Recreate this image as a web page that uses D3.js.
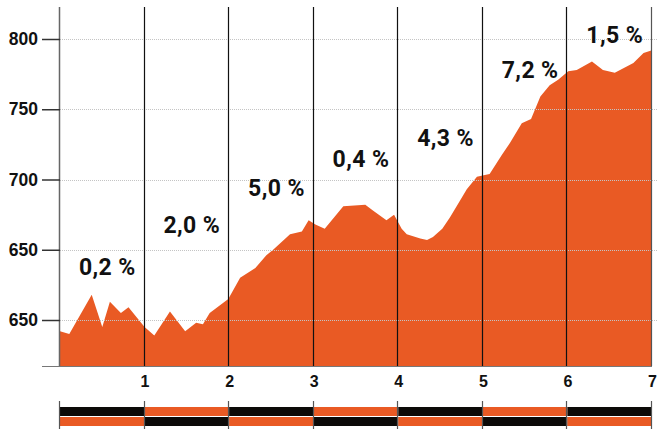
<!DOCTYPE html>
<html>
<head>
<meta charset="utf-8">
<script src="https://cdn.jsdelivr.net/npm/d3@7"></script>
<style>
  body { margin: 0; background: #fff; }
  svg { display: block; font-family: Roboto, "Noto Sans", sans-serif; }
</style>
</head>
<body>
<div id="profile"></div>
<script>
// distance in km, elevation in m
const distKm = [0, 0.11, 0.375, 0.50, 0.59, 0.72, 0.81, 1.00, 1.115, 1.30, 1.48, 1.61, 1.69, 1.77, 1.99,
  2.13, 2.31, 2.44, 2.52, 2.72, 2.86, 2.94, 3.02, 3.13, 3.35, 3.61, 3.70, 3.86, 3.95, 4.04, 4.10,
  4.26, 4.34, 4.41, 4.52, 4.61, 4.72, 4.81, 4.93, 5.01, 5.08, 5.22, 5.32, 5.46, 5.57, 5.68, 5.79, 5.89, 6.01,
  6.11, 6.29, 6.42, 6.56, 6.78, 6.90, 7.00];
const elevation = [592, 590, 618, 595, 613, 605, 609, 595, 589, 606, 592, 598, 597, 605, 615,
  630, 637, 646, 650, 661, 663, 671, 668, 665, 681, 682, 678, 671, 675, 665, 661,
  658, 657, 659, 665, 673, 684, 693, 702, 703, 704, 717, 726, 740, 743, 759, 767, 771, 777,
  778, 784, 778, 776, 783, 790, 792];

// gradient per km and where its label sits (elevation)
const gradients = ["0,2 %", "2,0 %", "5,0 %", "0,4 %", "4,3 %", "7,2 %", "1,5 %"];
const labelAlt = [632, 662, 688, 709, 724, 772, 797];

const yTicks = [600, 650, 700, 750, 800];
const yTickLabels = ["650", "650", "700", "750", "800"];
const kmTicks = [1, 2, 3, 4, 5, 6, 7];

const width = 657, height = 429;
const orange = "#e95a24";

const svg = d3.select("#profile").append("svg")
    .attr("width", width)
    .attr("height", height);

const x = d3.scaleLinear().domain([0, 7]).range([60, 652]);
const y = d3.scaleLinear().domain([600, 800]).range([320, 39]);
const plotTop = 7, plotBottom = 366;

// the profile
const area = d3.area()
    .x((d, i) => x(distKm[i]))
    .y0(plotBottom)
    .y1(d => y(d));

svg.append("path")
    .datum(elevation)
    .attr("d", area)
    .attr("fill", orange);

// dotted gridlines (on top of the area)
svg.selectAll(".grid")
    .data(yTicks)
    .enter().append("line")
    .attr("x1", 60).attr("x2", width)
    .attr("y1", d => Math.round(y(d)) + 0.5)
    .attr("y2", d => Math.round(y(d)) + 0.5)
    .attr("stroke", "#c4c4c4")
    .attr("stroke-dasharray", "1,1");

// km lines
svg.selectAll(".km")
    .data(kmTicks)
    .enter().append("line")
    .attr("x1", d => Math.round(x(d)) - 0.5)
    .attr("x2", d => Math.round(x(d)) - 0.5)
    .attr("y1", plotTop).attr("y2", plotBottom)
    .attr("stroke", d => d === 7 ? "#555" : "#111")
    .attr("stroke-width", 1.2);

// left axis line + baseline
svg.append("line")
    .attr("x1", 59.5).attr("x2", 59.5)
    .attr("y1", plotTop).attr("y2", plotBottom)
    .attr("stroke", "#666").attr("stroke-width", 1.5);
svg.append("line")
    .attr("x1", 42).attr("x2", 652)
    .attr("y1", plotBottom + 0.5).attr("y2", plotBottom + 0.5)
    .attr("stroke", "#777").attr("stroke-width", 1.2);

// y axis
const yAxis = svg.append("g")
    .attr("transform", "translate(60,0)")
    .call(d3.axisLeft(y).tickValues(yTicks).tickSize(18).tickPadding(4)
        .tickFormat((d, i) => yTickLabels[i]));
yAxis.select(".domain").remove();
yAxis.selectAll("line").attr("stroke", "#333").attr("stroke-width", 1.5);
yAxis.selectAll("text")
    .attr("fill", "#111")
    .style("font-size", "17.5px")
    .style("font-weight", 700);

// x axis labels
const xAxis = svg.append("g")
    .attr("transform", `translate(0,${plotBottom})`)
    .call(d3.axisBottom(x).tickValues(kmTicks).tickSize(0).tickPadding(10).tickFormat(d3.format("d")));
xAxis.select(".domain").remove();
xAxis.selectAll("text")
    .attr("fill", "#111")
    .style("font-size", "16px")
    .style("font-weight", 700);

// gradient labels
svg.selectAll(".grad")
    .data(gradients)
    .enter().append("text")
    .attr("x", (d, i) => x(i + 0.5) + 5)
    .attr("y", (d, i) => y(labelAlt[i]))
    .attr("text-anchor", "middle")
    .attr("fill", "#111")
    .style("font-size", "23px")
    .style("font-weight", 700)
    .style("letter-spacing", "0.4px")
    .text(d => d);

// striped bar underneath
const segs = d3.range(7);
const bar = svg.append("g");
bar.selectAll(".top")
    .data(segs)
    .enter().append("rect")
    .attr("x", d => x(d)).attr("width", d => x(d + 1) - x(d))
    .attr("y", 407).attr("height", 9)
    .attr("fill", d => d % 2 === 0 ? "#0c0a08" : orange);
bar.selectAll(".bot")
    .data(segs)
    .enter().append("rect")
    .attr("x", d => x(d)).attr("width", d => x(d + 1) - x(d))
    .attr("y", 417).attr("height", 9)
    .attr("fill", d => d % 2 === 0 ? orange : "#0c0a08");
bar.selectAll(".sep")
    .data([0].concat(kmTicks))
    .enter().append("line")
    .attr("x1", d => Math.round(x(d)) - 0.5)
    .attr("x2", d => Math.round(x(d)) - 0.5)
    .attr("y1", 401).attr("y2", 429)
    .attr("stroke", "#555").attr("stroke-width", 1.2);
</script>
</body>
</html>
